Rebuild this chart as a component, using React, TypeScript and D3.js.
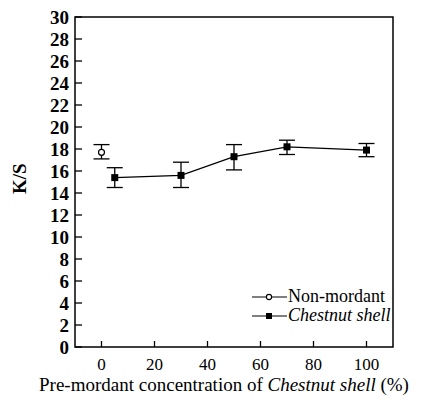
import React from 'react';
import * as d3 from 'd3';

const nonX = [0];
const nonY = [17.7];
const nonLo = [17.1];
const nonHi = [18.4];

const chestX = [5, 30, 50, 70, 100];
const chestY = [15.4, 15.6, 17.3, 18.2, 17.9];
const chestLo = [14.5, 14.5, 16.1, 17.5, 17.3];
const chestHi = [16.3, 16.8, 18.4, 18.8, 18.5];

const xTicks = [0, 20, 40, 60, 80, 100];
const yTicks = d3.range(0, 31, 2);

const FONT = "'Liberation Serif', serif";

const width = 424;
const height = 400;
const margin = { top: 17, right: 31, bottom: 53, left: 75 };

const x = d3.scaleLinear().domain([-10, 110]).range([margin.left, width - margin.right]);
const y = d3.scaleLinear().domain([0, 30]).range([height - margin.bottom, margin.top]);

const cap = 8;

const ErrBars: React.FC<{ xs: number[]; lo: number[]; hi: number[] }> = ({ xs, lo, hi }) => (
  <g stroke="#000" strokeWidth={1.3}>
    {xs.map((v, i) => (
      <g key={i}>
        <line x1={x(v)} x2={x(v)} y1={y(lo[i])} y2={y(hi[i])} />
        <line x1={x(v) - cap} x2={x(v) + cap} y1={y(lo[i])} y2={y(lo[i])} />
        <line x1={x(v) - cap} x2={x(v) + cap} y1={y(hi[i])} y2={y(hi[i])} />
      </g>
    ))}
  </g>
);

const App: React.FC = () => {
  const line = d3.line<number>().x((_, i) => x(chestX[i])).y(d => y(d));
  const bottom = height - margin.bottom;
  const items = [
    { label: "Non-mordant", italic: false, open: true },
    { label: "Chestnut shell", italic: true, open: false }
  ];

  return (
    <svg width={width} height={height}
      style={{ position: 'absolute', left: 0, top: 0, background: '#fff', fontFamily: FONT }}>
      <rect x={margin.left} y={margin.top}
        width={width - margin.left - margin.right} height={height - margin.top - margin.bottom}
        fill="none" stroke="#000" strokeWidth={1.5} />

      {yTicks.map(t => (
        <g key={t} transform={`translate(${margin.left},${y(t)})`}>
          <line x2={7} stroke="#000" strokeWidth={1.3} />
          <text x={-6} dy="0.35em" textAnchor="end"
            style={{ fontFamily: FONT, fontSize: 19, fontWeight: 'bold' }}>{t}</text>
        </g>
      ))}

      {xTicks.map(t => (
        <g key={t} transform={`translate(${x(t)},${bottom})`}>
          <line y2={-6} stroke="#000" strokeWidth={1.3} />
          <text y={23} textAnchor="middle"
            style={{ fontFamily: FONT, fontSize: 17 }}>{t}</text>
        </g>
      ))}

      <text transform={`translate(26,${y(15.3)}) rotate(-90)`} textAnchor="middle"
        style={{ fontFamily: FONT, fontSize: 19, fontWeight: 'bold' }}>K/S</text>

      <text x={224} y={391} textAnchor="middle"
        style={{ fontFamily: FONT, fontSize: 19 }}>
        <tspan>Pre-mordant concentration of </tspan>
        <tspan style={{ fontStyle: 'italic' }}>Chestnut shell</tspan>
        <tspan> (%)</tspan>
      </text>

      <ErrBars xs={nonX} lo={nonLo} hi={nonHi} />
      <ErrBars xs={chestX} lo={chestLo} hi={chestHi} />

      <path d={line(chestY) || ""} fill="none" stroke="#000" strokeWidth={1.2} />
      {chestY.map((d, i) => (
        <rect key={i} x={x(chestX[i]) - 3.5} y={y(d) - 3.5} width={7} height={7} fill="#000" />
      ))}
      {nonY.map((d, i) => (
        <circle key={i} cx={x(nonX[i])} cy={y(d)} r={3} fill="#fff" stroke="#000" strokeWidth={1.2} />
      ))}

      {items.map((it, i) => {
        const cy = 297 + i * 19;
        return (
          <g key={it.label}>
            <line x1={252} x2={287} y1={cy} y2={cy} stroke="#000" strokeWidth={1.2} />
            {it.open
              ? <circle cx={269} cy={cy} r={2.6} fill="#fff" stroke="#000" strokeWidth={1.1} />
              : <rect x={266} y={cy - 3} width={6} height={6} fill="#000" />}
            <text x={288} y={cy + 5}
              style={{ fontFamily: FONT, fontSize: 18, fontStyle: it.italic ? 'italic' : 'normal' }}>
              {it.label}
            </text>
          </g>
        );
      })}
    </svg>
  );
};

export default App;
